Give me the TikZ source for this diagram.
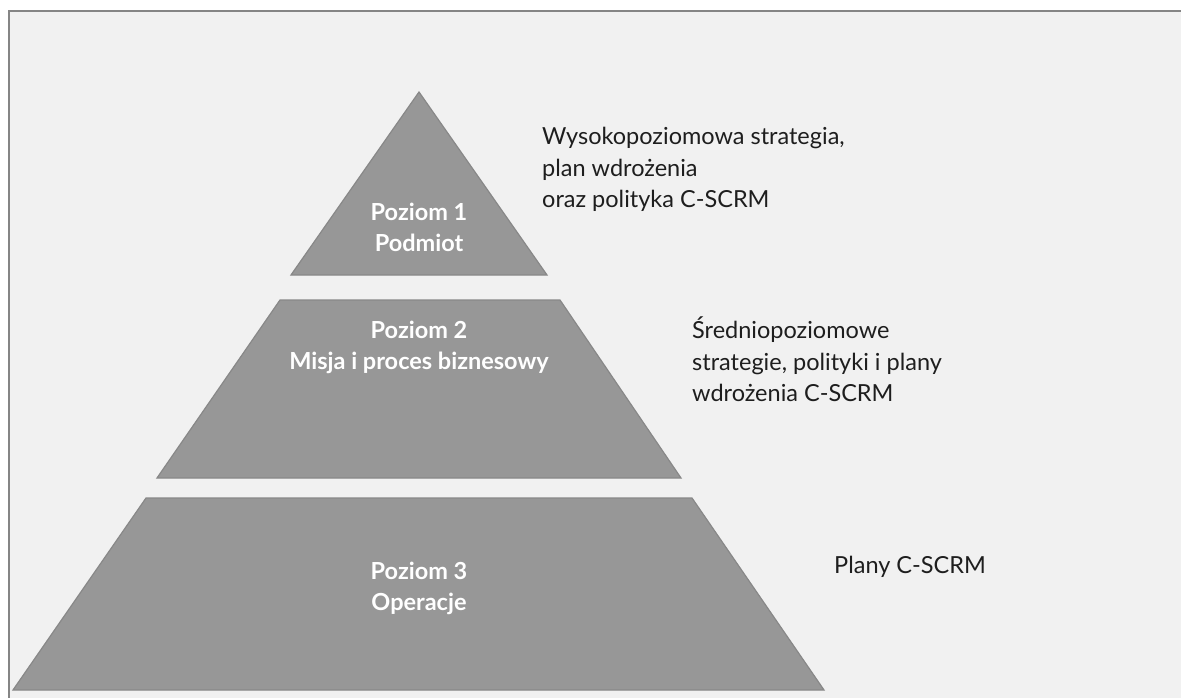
\documentclass[tikz,border=0pt]{standalone}
\usepackage{fontspec}
\setmainfont{Lato}
\definecolor{bgpanel}{HTML}{F1F1F1}
\definecolor{frameline}{HTML}{858585}
\definecolor{tierfill}{HTML}{979797}
\definecolor{tieredge}{HTML}{888888}
\definecolor{sidetext}{HTML}{1E1E1E}
\begin{document}
\begin{tikzpicture}[x=1pt,y=-1pt,
  tier/.style={fill=tierfill,draw=tieredge,line width=1.2pt,line join=miter},
  tierlabel/.style={text=white,font=\fontsize{23.5}{31}\selectfont\bfseries,align=center},
  sidelabel/.style={text=sidetext,font=\fontsize{23.5}{31.5}\selectfont,align=left,anchor=north west,inner sep=0pt}]
  \useasboundingbox (0,0) rectangle (1181,697);
  \fill[white] (0,0) rectangle (1181,697);
  % panel with its frame running past the right and bottom edges
  \draw[fill=bgpanel,draw=frameline,line width=2pt] (9,11) rectangle (1200,720);

  % pyramid tiers
  \draw[tier] (419,92) -- (547,275) -- (291,275) -- cycle;
  \draw[tier] (280,300) -- (560,300) -- (681,478) -- (157,478) -- cycle;
  \draw[tier] (146,498) -- (692,498) -- (824,690) -- (13,690) -- cycle;

  % tier labels
  \node[tierlabel] (t1) at (419,227) {Poziom 1\\Podmiot};
  \node[tierlabel] (t2) at (419,347) {Poziom 2\\Misja i proces biznesowy};
  \node[tierlabel] (t3) at (419,588) {Poziom 3\\Operacje};

  % descriptions on the right
  \node[sidelabel] (d1) at (542,127) {Wysokopoziomowa strategia,\\plan wdrożenia\\oraz polityka C-SCRM};
  \node[sidelabel] (d2) at (692,317) {Średniopoziomowe\\strategie, polityki i plany\\wdrożenia C-SCRM};
  \node[sidelabel] (d3) at (834,556) {Plany C-SCRM};
\end{tikzpicture}
\end{document}
